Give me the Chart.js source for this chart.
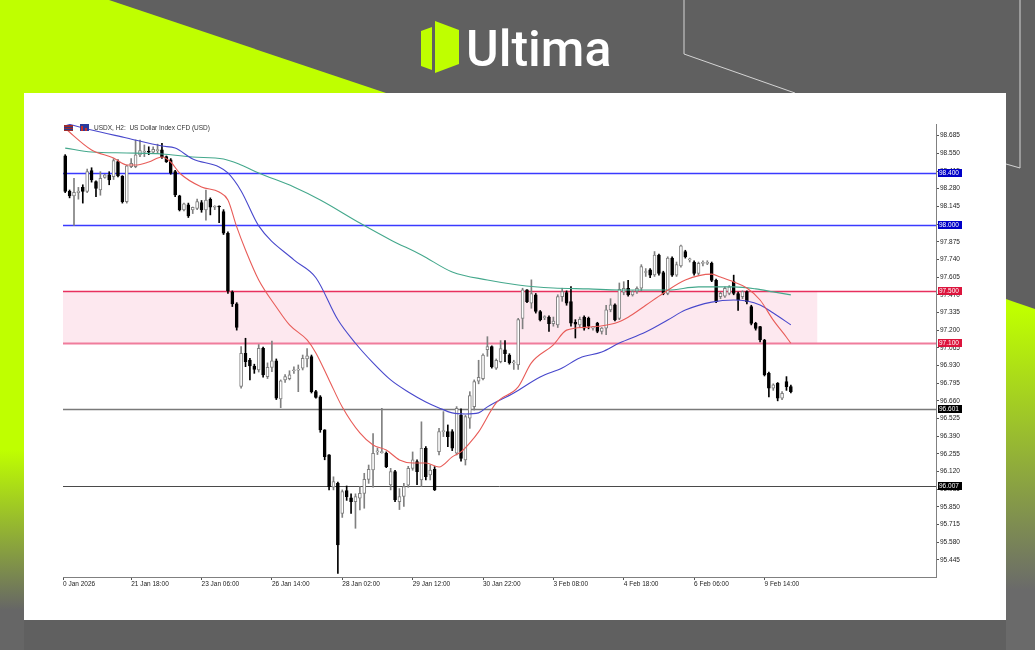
<!DOCTYPE html>
<html lang="en">
<head>
<meta charset="UTF-8" />
<title>USDX H2 - Ultima</title>
<script src="https://cdn.jsdelivr.net/npm/chart.js"></script>
<style>
    html, body { margin: 0; padding: 0; }
    body { width: 1035px; height: 650px; position: relative; overflow: hidden; background: #606060; font-family: "Liberation Sans", Arial, sans-serif; }
    #bg { position: absolute; left: 0; top: 0; }
    #card { position: absolute; left: 24px; top: 93px; width: 982px; height: 527px; background: #fff; }
    canvas { display: block; }
</style>
</head>
<body>
<svg id="bg" width="1035" height="650">
    <defs>
        <linearGradient id="gl" gradientUnits="userSpaceOnUse" x1="0" y1="450" x2="0" y2="610">
            <stop offset="0" stop-color="#bfff00"/><stop offset="1" stop-color="#666666"/>
        </linearGradient>
        <linearGradient id="gr" gradientUnits="userSpaceOnUse" x1="0" y1="310" x2="0" y2="590">
            <stop offset="0" stop-color="#bfff00"/><stop offset="1" stop-color="#6a6a6a"/>
        </linearGradient>
    </defs>
    <polygon points="0,0 109,0 386,93 0,93" fill="#bfff00"/>
    <rect x="0" y="93" width="24" height="557" fill="url(#gl)"/>
    <polygon points="1006,299 1035,309 1035,650 1006,650" fill="url(#gr)"/>
    <polyline points="684,0 684,54 795,93" fill="none" stroke="#d4d4d4" stroke-width="1"/>
    <polyline points="1020,0 1020,168 1006,164" fill="none" stroke="#d4d4d4" stroke-width="1"/>
    <polygon points="421,31 432,27 432,70 421,66" fill="#bfff00"/>
    <polygon points="435,21 459,30 459,64 435,73" fill="#bfff00"/>
    <text x="466" y="66" font-family="Roboto" font-weight="500" font-size="50" fill="#ffffff">Ultima</text>
</svg>
<div id="card"><canvas id="chart" width="982" height="527"></canvas></div>

<script>
    // H2 candles (bar 0 = first visible bar)
    const opens = [
        98.53, 98.26, 98.225, 98.25, 98.29, 98.26, 98.418, 98.334, 98.27, 98.367,
        98.385, 98.372, 98.487, 98.377, 98.181, 98.448, 98.448, 98.538, 98.558, 98.56,
        98.558, 98.571, 98.576, 98.525, 98.50, 98.41, 98.225, 98.118, 98.156, 98.118,
        98.13, 98.174, 98.118, 98.199, 98.138, 98.143, 98.105, 97.94, 97.49, 97.40,
        96.77, 97.023, 96.972, 96.926, 96.896, 97.061, 96.845, 96.916, 96.965, 96.674,
        96.82, 96.83, 96.89, 96.895, 96.909, 96.98, 96.998, 96.73, 96.69, 96.438,
        96.247, 96.00, 96.03, 95.80, 95.975, 95.92, 95.89, 95.916, 95.954, 96.061,
        96.132, 96.27, 96.265, 96.26, 96.018, 96.12, 95.89, 95.93, 96.017, 96.145,
        96.196, 96.056, 96.298, 96.094, 96.137, 96.272, 96.425, 96.425, 96.425, 96.26,
        96.552, 96.209, 96.527, 96.616, 96.81, 96.83, 97.05, 97.075, 96.91, 96.96,
        97.05, 97.01, 96.95, 96.935, 97.29, 97.507, 97.405, 97.469, 97.342, 97.296,
        97.30, 97.25, 97.24, 97.456, 97.487, 97.418, 97.26, 97.24, 97.30, 97.29,
        97.215, 97.253, 97.19, 97.215, 97.355, 97.393, 97.29, 97.49, 97.52, 97.469,
        97.495, 97.52, 97.64, 97.66, 97.621, 97.774, 97.64, 97.48, 97.75, 97.62,
        97.69, 97.80, 97.736, 97.72, 97.634, 97.71, 97.71, 97.71, 97.58, 97.456,
        97.46, 97.48, 97.57, 97.48, 97.456, 97.494, 97.38, 97.252, 97.227, 97.125,
        96.871, 96.756, 96.794, 96.68, 96.807, 96.769
    ];
    const highs = [
        98.54, 98.27, 98.36, 98.29, 98.31, 98.43, 98.44, 98.34, 98.41, 98.39,
        98.41, 98.51, 98.50, 98.38, 98.46, 98.51, 98.652, 98.652, 98.614, 98.60,
        98.60, 98.62, 98.627, 98.53, 98.51, 98.42, 98.23, 98.17, 98.17, 98.14,
        98.20, 98.19, 98.27, 98.21, 98.15, 98.15, 98.12, 97.95, 97.50, 97.41,
        97.074, 97.138, 96.985, 96.94, 97.09, 97.07, 96.95, 97.117, 96.98, 96.82,
        96.86, 96.89, 96.92, 96.934, 97.01, 97.06, 97.01, 96.74, 96.70, 96.44,
        96.25, 96.08, 96.04, 95.98, 96.01, 95.95, 95.95, 96.005, 96.107, 96.17,
        96.41, 96.30, 96.603, 96.27, 96.145, 96.13, 95.99, 96.03, 96.16, 96.27,
        96.21, 96.50, 96.31, 96.17, 96.158, 96.45, 96.578, 96.476, 96.44, 96.616,
        96.60, 96.55, 96.73, 96.82, 96.97, 97.02, 97.15, 97.08, 96.98, 97.12,
        97.12, 97.02, 96.97, 97.29, 97.52, 97.51, 97.584, 97.48, 97.35, 97.31,
        97.31, 97.30, 97.47, 97.52, 97.50, 97.533, 97.28, 97.30, 97.31, 97.30,
        97.23, 97.26, 97.22, 97.39, 97.44, 97.40, 97.56, 97.57, 97.58, 97.50,
        97.53, 97.70, 97.67, 97.67, 97.80, 97.78, 97.65, 97.76, 97.76, 97.72,
        97.85, 97.81, 97.75, 97.73, 97.72, 97.73, 97.73, 97.72, 97.59, 97.49,
        97.53, 97.54, 97.62, 97.49, 97.50, 97.50, 97.39, 97.26, 97.23, 97.13,
        96.88, 96.79, 96.80, 96.73, 96.845, 96.78
    ];
    const lows = [
        98.25, 98.21, 98.00, 98.20, 98.17, 98.25, 98.33, 98.22, 98.23, 98.36,
        98.31, 98.35, 98.37, 98.17, 98.17, 98.44, 98.44, 98.525, 98.525, 98.54,
        98.55, 98.55, 98.512, 98.48, 98.39, 98.22, 98.11, 98.11, 98.06, 98.09,
        98.12, 98.10, 98.04, 98.08, 98.12, 98.02, 97.93, 97.48, 97.38, 97.20,
        96.756, 96.921, 96.82, 96.87, 96.88, 96.84, 96.83, 96.883, 96.67, 96.608,
        96.80, 96.82, 96.87, 96.73, 96.896, 96.92, 96.72, 96.68, 96.42, 96.21,
        95.98, 95.98, 95.343, 95.77, 95.90, 95.80, 95.687, 95.827, 95.84, 96.03,
        96.00, 96.25, 96.26, 96.15, 95.98, 95.89, 95.83, 95.853, 96.00, 96.13,
        96.02, 96.006, 96.056, 96.056, 95.975, 96.247, 96.387, 96.31, 96.28, 96.247,
        96.20, 96.17, 96.45, 96.59, 96.79, 96.82, 97.00, 96.91, 96.90, 96.95,
        96.96, 96.94, 96.90, 96.90, 97.21, 97.41, 97.367, 97.33, 97.27, 97.28,
        97.19, 97.23, 97.22, 97.42, 97.39, 97.23, 97.14, 97.22, 97.20, 97.21,
        97.20, 97.18, 97.17, 97.165, 97.34, 97.27, 97.28, 97.47, 97.46, 97.46,
        97.48, 97.50, 97.61, 97.60, 97.61, 97.62, 97.47, 97.47, 97.61, 97.61,
        97.68, 97.75, 97.72, 97.62, 97.62, 97.69, 97.70, 97.57, 97.41, 97.44,
        97.45, 97.47, 97.47, 97.35, 97.44, 97.40, 97.24, 97.20, 97.11, 96.85,
        96.69, 96.74, 96.66, 96.67, 96.74, 96.72
    ];
    const closes = [
        98.26, 98.225, 98.253, 98.262, 98.26, 98.41, 98.347, 98.283, 98.36, 98.385,
        98.347, 98.494, 98.377, 98.181, 98.454, 98.474, 98.538, 98.571, 98.56, 98.558,
        98.581, 98.573, 98.525, 98.487, 98.398, 98.232, 98.118, 98.164, 98.072, 98.138,
        98.181, 98.118, 98.194, 98.138, 98.14, 98.14, 97.94, 97.50, 97.40, 97.22,
        97.023, 96.96, 96.926, 96.90, 97.061, 96.858, 96.916, 96.965, 96.68, 96.812,
        96.845, 96.858, 96.893, 96.897, 96.985, 97.003, 96.73, 96.687, 96.438, 96.234,
        96.005, 96.043, 95.56, 95.967, 95.929, 95.89, 95.93, 95.954, 96.061, 96.137,
        96.26, 96.272, 96.267, 96.158, 96.12, 95.903, 95.93, 96.005, 96.145, 96.209,
        96.12, 96.298, 96.082, 96.132, 95.98, 96.425, 96.43, 96.387, 96.298, 96.603,
        96.221, 96.54, 96.70, 96.807, 96.84, 97.01, 97.075, 96.92, 96.97, 97.06,
        97.02, 96.95, 96.952, 97.28, 97.507, 97.418, 97.48, 97.342, 97.278, 97.30,
        97.25, 97.27, 97.456, 97.495, 97.405, 97.253, 97.245, 97.283, 97.215, 97.23,
        97.217, 97.19, 97.215, 97.355, 97.393, 97.278, 97.512, 97.52, 97.469, 97.495,
        97.52, 97.685, 97.645, 97.62, 97.774, 97.634, 97.48, 97.75, 97.62, 97.70,
        97.843, 97.76, 97.738, 97.634, 97.71, 97.712, 97.712, 97.58, 97.418, 97.481,
        97.52, 97.53, 97.48, 97.43, 97.494, 97.418, 97.252, 97.214, 97.125, 96.858,
        96.756, 96.782, 96.68, 96.718, 96.769, 96.731
    ];

    // moving averages, sampled along each line (bar index / price)
    const redBars = [0, 6, 11, 14, 16, 19, 22, 24, 26, 31, 35, 37, 39, 41, 44, 48, 51, 55, 57, 60,
        63, 67, 70, 73, 76, 79, 82, 85, 88, 90, 92, 94, 98, 103, 106, 111, 114, 119, 125, 128,
        132, 136, 141, 147, 149, 152, 155, 158, 161, 164, 165];
    const redVals = [98.74, 98.576, 98.515, 98.461, 98.461, 98.484, 98.522, 98.484, 98.40, 98.293,
        98.255, 98.194, 97.988, 97.812, 97.583, 97.377, 97.24, 97.125, 97.026, 96.82,
        96.613, 96.415, 96.323, 96.285, 96.209, 96.186, 96.186, 96.155, 96.232, 96.27,
        96.339, 96.423, 96.645, 96.767, 96.95, 97.088, 97.20, 97.223, 97.253, 97.299,
        97.39, 97.482, 97.583, 97.628, 97.605, 97.568, 97.522, 97.43, 97.276, 97.146, 97.10];
    const blueBars = [0, 6, 14, 22, 25, 29, 35, 37, 40, 44, 52, 57, 62, 66, 70, 74, 78, 82, 85,
        88, 91, 94, 96, 102, 108, 113, 117, 122, 126, 132, 137, 141, 147, 152, 155, 158, 161, 165];
    const blueVals = [98.78, 98.728, 98.667, 98.606, 98.59, 98.507, 98.446, 98.40, 98.263, 97.996,
        97.736, 97.60, 97.279, 97.10, 96.95, 96.82, 96.728, 96.652, 96.606, 96.568, 96.56,
        96.568, 96.614, 96.72, 96.842, 96.911, 96.988, 97.033, 97.101, 97.185, 97.277,
        97.353, 97.414, 97.43, 97.422, 97.392, 97.331, 97.24];
    const tealBars = [0, 6, 14, 22, 29, 36, 40, 44, 52, 58, 67, 74, 81, 88, 96, 103, 111, 119,
        126, 137, 144, 152, 157, 161, 165];
    const tealVals = [98.59, 98.56, 98.553, 98.545, 98.522, 98.507, 98.461, 98.40, 98.293, 98.194,
        98.018, 97.889, 97.774, 97.644, 97.583, 97.545, 97.522, 97.515, 97.507, 97.507,
        97.53, 97.53, 97.515, 97.492, 97.469];

    // axes
    const yTicks = [95.445, 95.58, 95.715, 95.85, 95.985, 96.12, 96.255, 96.39, 96.525, 96.66,
        96.795, 96.93, 97.065, 97.2, 97.335, 97.47, 97.605, 97.74, 97.875, 98.01,
        98.145, 98.28, 98.415, 98.55, 98.685];
    const tickBars = [-0.5, 15, 31, 47, 63, 79, 95, 111, 127, 143, 159];
    const timeLabels = ['0 Jan 2026', '21 Jan 18:00', '23 Jan 06:00', '26 Jan 14:00', '28 Jan 02:00',
        '29 Jan 12:00', '30 Jan 22:00', '3 Feb 08:00', '4 Feb 18:00', '6 Feb 06:00', '9 Feb 14:00'];

    // horizontal levels and the supply zone
    const levels = [98.4, 98.0, 97.5, 97.1, 96.601, 96.007];
    const levelLabels = ['98.400', '98.000', '97.500', '97.100', '96.601', '96.007'];
    const zoneLow = 97.1;
    const zoneHigh = 97.5;
    const zoneEndBar = 171;

    const lineColors = ['#3a3aff', '#3a3aff', '#e8305e', '#f07c9c', '#7a7a7a', '#4a4a4a'];
    const lineWidths = [1.5, 1.5, 1.5, 1.8, 1.6, 1];
    const boxColors = ['#0000c8', '#0000c8', '#dc143c', '#dc143c', '#000000', '#000000'];

    const bull = opens.map((o, i) => closes[i] >= o);

    const overlay = {
        id: 'overlay',
        beforeDatasetsDraw(chart) {
            const { ctx, chartArea: a, scales: { x, y } } = chart;
            ctx.save();
            ctx.beginPath();
            ctx.rect(a.left, a.top, a.width, a.height);
            ctx.clip();
            const zx = x.getPixelForValue(zoneEndBar);
            const zy1 = y.getPixelForValue(zoneHigh);
            const zy2 = y.getPixelForValue(zoneLow);
            ctx.fillStyle = '#fde8ef';
            ctx.fillRect(a.left, zy1, zx - a.left, zy2 - zy1);
            levels.forEach((v, i) => {
                const py = Math.round(y.getPixelForValue(v)) + 0.5;
                ctx.strokeStyle = lineColors[i];
                ctx.lineWidth = lineWidths[i];
                ctx.beginPath();
                ctx.moveTo(a.left, py);
                ctx.lineTo(a.right, py);
                ctx.stroke();
            });
            ctx.restore();
        },
        afterDraw(chart) {
            const { ctx, chartArea: a, scales: { y } } = chart;
            ctx.save();
            // price boxes on the axis
            ctx.font = '6.5px "Liberation Sans"';
            ctx.textBaseline = 'middle';
            ctx.textAlign = 'left';
            levels.forEach((v, i) => {
                const py = Math.round(y.getPixelForValue(v));
                ctx.fillStyle = boxColors[i];
                ctx.fillRect(a.right + 2, py - 4, 24, 8);
                ctx.fillStyle = '#ffffff';
                ctx.fillText(levelLabels[i], a.right + 3, py + 0.5);
            });
            // symbol header
            const lx = a.left + 1, ly = a.top + 1;
            ctx.fillStyle = '#9c2c2c';
            ctx.fillRect(lx, ly, 9, 6);
            ctx.fillStyle = '#2b3a8c';
            ctx.fillRect(lx, ly + 2, 9, 1);
            ctx.fillRect(lx, ly + 4, 9, 1);
            ctx.fillStyle = '#2b3a9c';
            ctx.fillRect(lx + 16, ly - 1, 9, 7);
            ctx.fillStyle = '#c03030';
            ctx.fillRect(lx + 17, ly + 1, 2, 5);
            ctx.fillRect(lx + 21, ly + 3, 2, 3);
            ctx.fillStyle = '#333333';
            ctx.font = '6.5px "Liberation Sans"';
            ctx.fillText('USDX, H2:  US Dollar Index CFD (USD)', a.left + 31, ly + 3);
            ctx.restore();
        }
    };

    new Chart(document.getElementById('chart'), {
        type: 'bar',
        data: {
            datasets: [
                {
                    type: 'line',
                    data: redBars.map((b, i) => ({ x: b, y: redVals[i] })),
                    borderColor: '#e85c58',
                    borderWidth: 1.1,
                    pointRadius: 0,
                    cubicInterpolationMode: 'monotone',
                    order: 0
                },
                {
                    type: 'line',
                    data: blueBars.map((b, i) => ({ x: b, y: blueVals[i] })),
                    borderColor: '#4848cc',
                    borderWidth: 1.1,
                    pointRadius: 0,
                    cubicInterpolationMode: 'monotone',
                    order: 0
                },
                {
                    type: 'line',
                    data: tealBars.map((b, i) => ({ x: b, y: tealVals[i] })),
                    borderColor: '#44a88c',
                    borderWidth: 1.1,
                    pointRadius: 0,
                    cubicInterpolationMode: 'monotone',
                    order: 0
                },
                {
                    // wicks
                    data: opens.map((o, i) => ({ x: i, y: [lows[i], highs[i]] })),
                    backgroundColor: bull.map(b => b ? '#808080' : '#000000'),
                    barThickness: 1,
                    grouped: false,
                    minBarLength: 1,
                    order: 2
                },
                {
                    // bodies
                    data: opens.map((o, i) => ({ x: i, y: [o, closes[i]] })),
                    backgroundColor: bull.map(b => b ? '#ffffff' : '#000000'),
                    borderColor: bull.map(b => b ? '#808080' : '#000000'),
                    borderWidth: 1,
                    borderSkipped: false,
                    barThickness: 3,
                    grouped: false,
                    minBarLength: 1,
                    order: 1
                }
            ]
        },
        options: {
            responsive: false,
            animation: false,
            layout: { padding: { left: 39, top: 31, right: 0, bottom: 0 } },
            plugins: { legend: { display: false }, tooltip: { enabled: false } },
            scales: {
                x: {
                    type: 'linear',
                    min: -0.5,
                    max: 198,
                    offset: false,
                    afterBuildTicks: s => { s.ticks = tickBars.map(v => ({ value: v })); },
                    afterFit: s => { s.height = 43; },
                    grid: { offset: false, drawOnChartArea: false, drawTicks: true, tickLength: 3, color: '#555555' },
                    border: { display: true, color: '#808080' },
                    ticks: {
                        autoSkip: false,
                        maxRotation: 0,
                        align: 'start',
                        padding: 0,
                        color: '#222222',
                        font: { family: 'Liberation Sans', size: 6.5 },
                        callback: (v, i) => timeLabels[i]
                    }
                },
                y: {
                    position: 'right',
                    min: 95.315,
                    max: 98.774,
                    afterBuildTicks: s => { s.ticks = yTicks.map(v => ({ value: v })); },
                    afterFit: s => { s.width = 70; },
                    grid: { drawOnChartArea: false, drawTicks: true, tickLength: 3, color: '#555555' },
                    border: { display: true, color: '#808080' },
                    ticks: {
                        autoSkip: false,
                        padding: 1,
                        color: '#222222',
                        font: { family: 'Liberation Sans', size: 6.5 },
                        callback: v => Number(v).toFixed(3)
                    }
                }
            }
        },
        plugins: [overlay]
    });
</script>
</body>
</html>
